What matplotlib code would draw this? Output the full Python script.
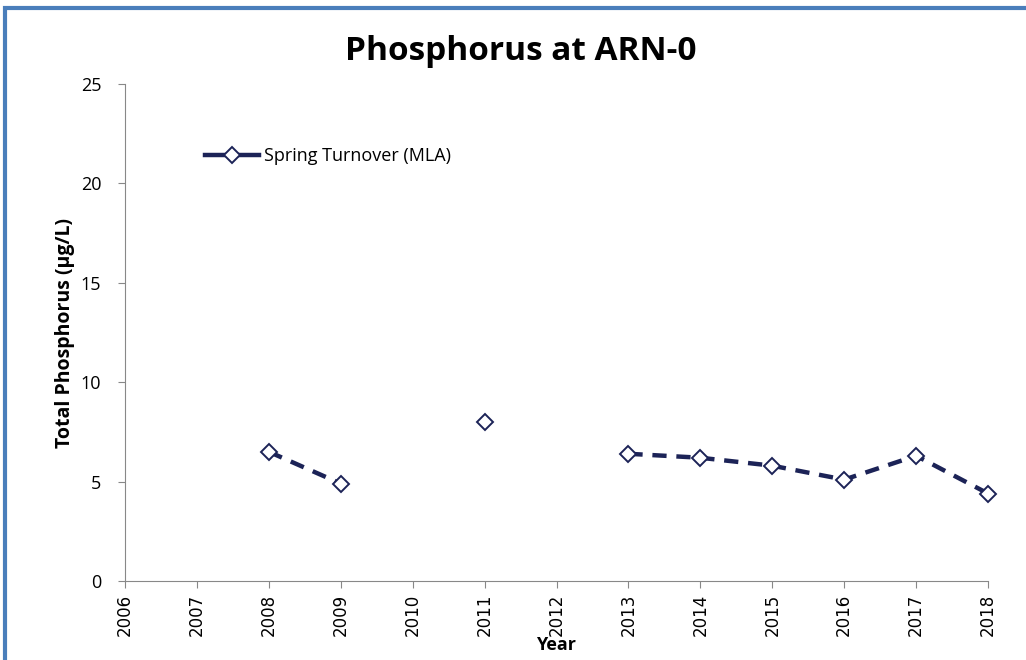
import matplotlib
matplotlib.use("Agg")
from matplotlib import pyplot as plt
from matplotlib.patches import Rectangle
from matplotlib.lines import Line2D
import numpy as np

# readings (NaN = no sample that year)
years = [2008, 2009, 2010, 2011, 2012, 2013, 2014, 2015, 2016, 2017, 2018]
phosphorus = [6.5, 4.9, np.nan, 8.0, np.nan, 6.4, 6.2, 5.8, 5.1, 6.3, 4.4]
x_ticks = list(range(2006, 2019))
y_ticks = [0, 5, 10, 15, 20, 25]

navy = "#1c2357"

plt.rcParams['font.family'] = ['Open Sans', 'DejaVu Sans']

fig = plt.figure(figsize=(10.26, 6.6), dpi=100)
ax = fig.add_axes([0.1218, 0.1197, 0.8412, 0.753])

# frame of the original screenshot
fig.patches.append(Rectangle((5 / 1026, -0.05), 1.2, 1 - 8 / 660 + 0.05,
                             transform=fig.transFigure, fill=False,
                             edgecolor="#4a7ebb", linewidth=3))

ax.plot(years, phosphorus, color=navy, linestyle=(0, (3.2, 2.2)), linewidth=3.2,
        marker="D", markersize=8, markerfacecolor="white",
        markeredgecolor=navy, markeredgewidth=1.4, clip_on=False, zorder=3)

ax.set_xlim(2006, 2018)
ax.set_ylim(0, 25)
ax.set_xticks(x_ticks)
ax.set_xticklabels([str(y) for y in x_ticks], rotation=90, fontsize=12,
                   family=['DejaVu Sans'])
ax.set_yticks(y_ticks)
ax.tick_params(axis='y', labelsize=13, length=5, color="#888888", pad=12)
ax.tick_params(axis='x', length=5, color="#888888", pad=4)
for side in ("top", "right"):
    ax.spines[side].set_visible(False)
for side in ("left", "bottom"):
    ax.spines[side].set_color("#888888")

fig.text(0.508, 0.922, "Phosphorus at ARN-0", fontsize=24, fontweight="bold",
         ha="center", va="center")
ax.set_xlabel("Year", fontsize=13, fontweight="bold", labelpad=0)
ax.set_ylabel("Total Phosphorus (µg/L)", fontsize=14, fontweight="bold", labelpad=4)

handle = Line2D([], [], color=navy, linestyle="-", linewidth=3.2, marker="D",
                markersize=8, markerfacecolor="white", markeredgecolor=navy,
                markeredgewidth=1.4)
ax.legend([handle], ["Spring Turnover (MLA)"], loc="upper left",
          bbox_to_anchor=(0.074, 0.905), frameon=False, fontsize=13,
          handlelength=3.0, handletextpad=0.25)

plt.savefig("out.png", dpi=100)
